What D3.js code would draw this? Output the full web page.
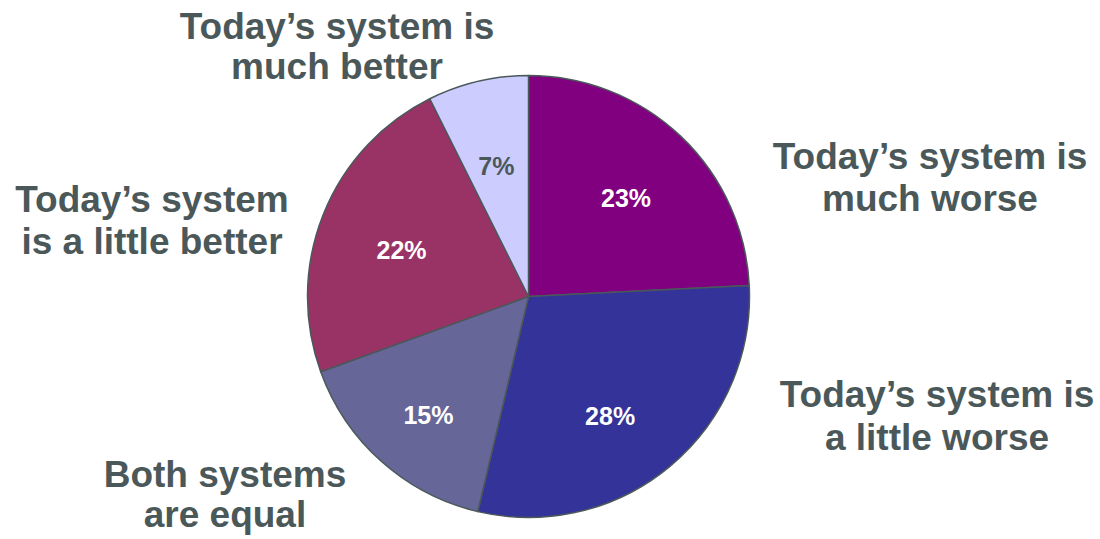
<!DOCTYPE html>
<html>
<head>
<meta charset="utf-8">
<script src="https://cdn.jsdelivr.net/npm/d3@7"></script>
<style>
  html, body { margin: 0; padding: 0; background: #ffffff; }
  svg { display: block; }
</style>
</head>
<body>
<svg id="chart" width="1100" height="539"></svg>
<script>
// Survey answers, clockwise from 12 o'clock
const categories = [
  "Today\u2019s system is much worse",
  "Today\u2019s system is a little worse",
  "Both systems are equal",
  "Today\u2019s system is a little better",
  "Today\u2019s system is much better"
];
const shares = [23, 28, 15, 22, 7];
const valueLabels = ["23%", "28%", "15%", "22%", "7%"];

const sliceColors = ["#800080", "#333399", "#666699", "#993366", "#CCCCFF"];
const valueLabelColors = ["#ffffff", "#ffffff", "#ffffff", "#ffffff", "#4b585a"];

// Nudges for the value labels relative to the slice centroid
const valueLabelNudge = [[1, 3], [-8, 12], [-7, 14], [3, 5], [0, 6]];

// Category captions: line breaks and placement around the pie
const captionLines = [
  ["Today\u2019s system is", "much worse"],
  ["Today\u2019s system is", "a little worse"],
  ["Both systems", "are equal"],
  ["Today\u2019s system", "is a little better"],
  ["Today\u2019s system is", "much better"]
];
const captionLayout = [
  { x: 930, y: 169, lh: 42 },
  { x: 937, y: 407, lh: 43 },
  { x: 225, y: 487, lh: 40 },
  { x: 152, y: 212, lh: 42 },
  { x: 337, y: 39,  lh: 40 }
];

const cx = 528.5, cy = 296.5, R = 221;
const textColor = "#4b585a";

const svg = d3.select("#chart");
const g = svg.append("g").attr("transform", `translate(${cx},${cy})`);

const pie = d3.pie().sort(null).value(d => d);
const arcs = pie(shares);

const arc = d3.arc().innerRadius(0).outerRadius(R);
const labelArc = d3.arc().innerRadius(140).outerRadius(140);

g.selectAll("path.slice")
  .data(arcs)
  .join("path")
  .attr("class", "slice")
  .attr("d", arc)
  .attr("fill", (d, i) => sliceColors[i])
  .attr("stroke", "#4b585a")
  .attr("stroke-width", 1.5)
  .attr("stroke-linejoin", "round");

g.selectAll("text.value")
  .data(arcs)
  .join("text")
  .attr("class", "value")
  .attr("transform", (d, i) => {
    const [x, y] = labelArc.centroid(d);
    const [nx, ny] = valueLabelNudge[i];
    return `translate(${x + nx},${y + ny})`;
  })
  .attr("text-anchor", "middle")
  .attr("dy", "0.36em")
  .attr("font-family", "'Liberation Sans', Arial, sans-serif")
  .attr("font-weight", "bold")
  .attr("font-size", 25)
  .attr("fill", (d, i) => valueLabelColors[i])
  .text((d, i) => valueLabels[i]);

const captions = svg.selectAll("text.caption")
  .data(categories)
  .join("text")
  .attr("class", "caption")
  .attr("text-anchor", "middle")
  .attr("font-family", "'Liberation Sans', Arial, sans-serif")
  .attr("font-weight", "bold")
  .attr("font-size", 37)
  .attr("fill", textColor);

captions.each(function(d, i) {
  const t = d3.select(this);
  const L = captionLayout[i];
  captionLines[i].forEach((line, k) => {
    t.append("tspan")
      .attr("x", L.x)
      .attr("y", L.y + k * L.lh)
      .text(line);
  });
});
</script>
</body>
</html>
